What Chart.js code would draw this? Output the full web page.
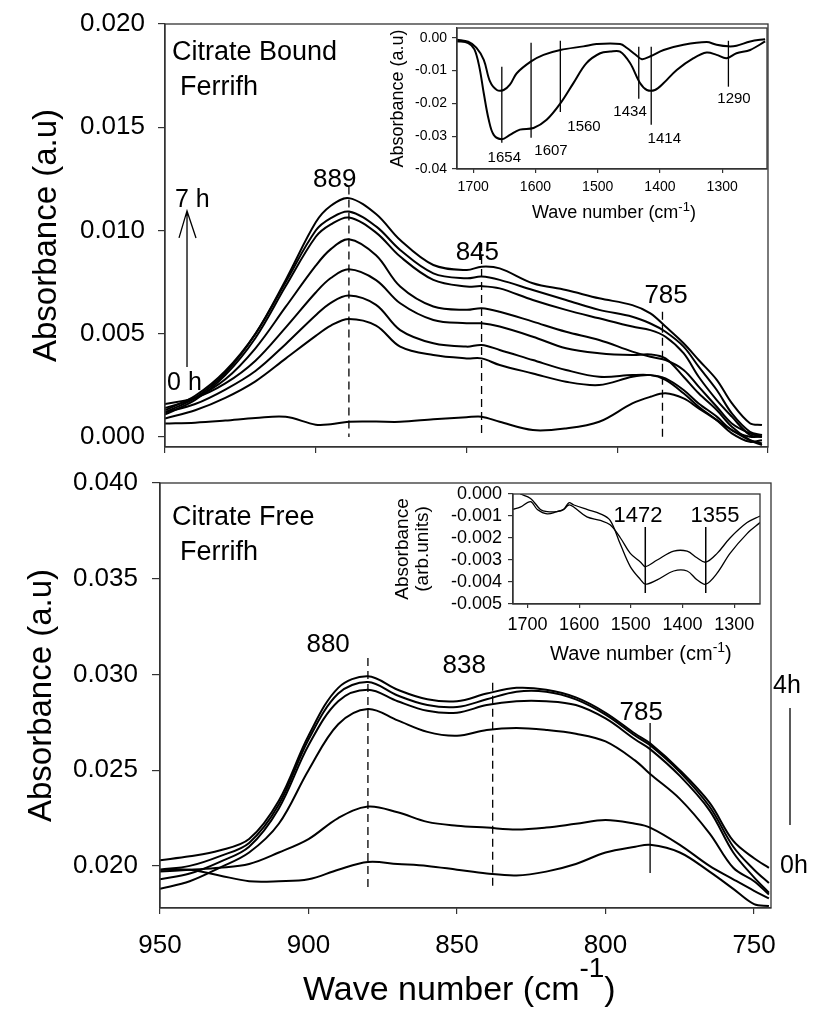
<!DOCTYPE html>
<html lang="en">
<head>
<meta charset="UTF-8">
<title>Ferrifh FTIR spectra</title>
<script src="https://cdn.jsdelivr.net/npm/chart.js"></script>
<style>
  body { margin: 0; background: #fff; }
  #wrap { position: relative; width: 814px; height: 1024px; overflow: hidden; }
  canvas { position: absolute; }
</style>
</head>
<body>
<div id="wrap">
  <canvas id="topMain" width="814" height="500" style="left:0;top:-20px"></canvas>
  <canvas id="topInset" width="420" height="224" style="left:370px;top:14px"></canvas>
  <canvas id="botMain" width="814" height="584" style="left:0;top:440px"></canvas>
  <canvas id="botInset" width="400" height="204" style="left:380px;top:476px"></canvas>
</div>

<script>
// ---------- data: citrate bound ferrifh (top panel) ----------
const topWn = [950, 940, 930, 920, 910, 900, 895, 889, 880, 872, 861, 850, 845, 839, 828, 817, 806, 795, 789, 784, 778, 773, 767, 762, 756, 752];
const topT0 = [0.00066, 0.0007, 0.0008, 0.00092, 0.00098, 0.0006, 0.00062, 0.00074, 0.00075, 0.00074, 0.00086, 0.00096, 0.00099, 0.00074, 0.00034, 0.00042, 0.00074, 0.00163, 0.00195, 0.00212, 0.00187, 0.00139, 0.00082, 0.00034, -0.00015, -0.00031];
const topT1 = [0.0009, 0.0013, 0.0019, 0.0027, 0.0038, 0.0049, 0.0054, 0.00572, 0.0054, 0.00438, 0.00397, 0.00381, 0.00381, 0.00349, 0.00308, 0.00268, 0.00252, 0.00292, 0.003, 0.00277, 0.00212, 0.00147, 0.00082, 0.00018, -0.00023, -0.00015];
const topT2 = [0.0012, 0.0016, 0.0023, 0.0032, 0.0045, 0.0059, 0.0065, 0.00685, 0.0064, 0.00518, 0.00454, 0.00438, 0.00446, 0.00422, 0.00373, 0.00325, 0.00292, 0.003, 0.003, 0.00284, 0.00228, 0.00163, 0.00099, 0.00034, 0.00002, 0.00002];
const topT3 = [0.0016, 0.0019, 0.0026, 0.0037, 0.0053, 0.0070, 0.0077, 0.00812, 0.0076, 0.00648, 0.00567, 0.00551, 0.00551, 0.00535, 0.00486, 0.0043, 0.00406, 0.00397, 0.004, 0.00381, 0.00292, 0.00212, 0.00131, 0.0005, -0.00015, -0.00039];
const topT4 = [0.0014, 0.0019, 0.0028, 0.0043, 0.0063, 0.0083, 0.0091, 0.00958, 0.0088, 0.00729, 0.00632, 0.00616, 0.00624, 0.00607, 0.00559, 0.0051, 0.0047, 0.00414, 0.00389, 0.00373, 0.00325, 0.00244, 0.00147, 0.00066, 0.00018, 0.00002];
const topT5 = [0.0011, 0.0018, 0.0030, 0.0048, 0.0073, 0.0097, 0.0103, 0.01063, 0.0099, 0.00874, 0.00761, 0.00729, 0.00731, 0.0072, 0.00664, 0.00616, 0.00575, 0.00535, 0.00518, 0.00486, 0.00406, 0.00292, 0.00179, 0.00099, 0.0001, 0.00002];
const topT6 = [0.0013, 0.0020, 0.0032, 0.0050, 0.0075, 0.0100, 0.0106, 0.01092, 0.0102, 0.00906, 0.00793, 0.00769, 0.00777, 0.00761, 0.00712, 0.00664, 0.00616, 0.00583, 0.0055, 0.0051, 0.00438, 0.00341, 0.00228, 0.00115, 0.00026, 0.0001];
const topT7 = [0.0012, 0.0019, 0.0031, 0.0050, 0.0076, 0.0104, 0.0112, 0.01157, 0.0108, 0.00954, 0.00833, 0.00809, 0.00825, 0.00817, 0.00745, 0.00712, 0.00672, 0.00639, 0.00599, 0.00535, 0.00454, 0.00373, 0.00277, 0.00164, 0.00067, 0.00058];
const topPeaks = [889, 845, 785];

// ---------- data: citrate free ferrifh (bottom panel) ----------
const botWn = [950, 940, 930, 920, 910, 900, 890, 880, 870, 860, 850, 840, 830, 820, 810, 800, 790, 785, 775, 765, 757, 750, 745];
const botT0 = [0.0198, 0.0198, 0.0195, 0.0192, 0.0192, 0.0193, 0.0198, 0.0202, 0.0201, 0.0200, 0.0198, 0.0196, 0.0195, 0.0197, 0.0201, 0.0207, 0.0210, 0.0211, 0.0207, 0.0197, 0.0188, 0.0180, 0.0179];
const botT1 = [0.0197, 0.0198, 0.0199, 0.0201, 0.0207, 0.0214, 0.0225, 0.0231, 0.0228, 0.0223, 0.0221, 0.0220, 0.0219, 0.0220, 0.0222, 0.0224, 0.0222, 0.0220, 0.0211, 0.0200, 0.0193, 0.0187, 0.0183];
const botT2 = [0.0188, 0.0192, 0.0199, 0.0207, 0.0222, 0.0250, 0.0274, 0.0282, 0.0276, 0.0270, 0.0268, 0.0271, 0.0272, 0.0271, 0.0269, 0.0265, 0.0255, 0.0248, 0.0235, 0.0217, 0.0199, 0.0192, 0.0185];
const botT3 = [0.0193, 0.0196, 0.0202, 0.0210, 0.0230, 0.0263, 0.0286, 0.0292, 0.0286, 0.0281, 0.0280, 0.0284, 0.0286, 0.0286, 0.0284, 0.0277, 0.0266, 0.0261, 0.0247, 0.0229, 0.0207, 0.0194, 0.0186];
const botT4 = [0.0198, 0.0200, 0.0205, 0.0212, 0.0232, 0.0266, 0.0290, 0.0296, 0.0289, 0.0284, 0.0283, 0.0287, 0.0291, 0.0291, 0.0287, 0.0279, 0.0268, 0.0263, 0.0249, 0.0231, 0.0210, 0.0198, 0.0191];
const botT5 = [0.0203, 0.0205, 0.0208, 0.0214, 0.0234, 0.0268, 0.0293, 0.0299, 0.0292, 0.0287, 0.0286, 0.0290, 0.0293, 0.0292, 0.0288, 0.0280, 0.0269, 0.0264, 0.0250, 0.0233, 0.0213, 0.0204, 0.0199];
const botPeaks = [880, 838, 785];

// ---------- data: insets ----------
const insetTopWnA = [1726, 1708, 1695, 1683, 1673, 1662, 1651, 1641, 1630, 1607, 1587, 1560, 1523, 1502, 1464, 1453, 1440, 1429, 1416, 1394, 1362, 1325, 1309, 1290, 1277, 1255, 1231];
const insetTopA = [-0.0006, -0.0012, -0.0030, -0.0067, -0.0133, -0.0159, -0.0159, -0.0143, -0.0108, -0.0072, -0.0052, -0.0037, -0.0026, -0.0019, -0.0019, -0.0031, -0.0050, -0.0065, -0.0057, -0.0037, -0.0021, -0.0013, -0.0021, -0.0026, -0.0024, -0.0011, -0.0004];
const insetTopWnB = [1726, 1708, 1698, 1690, 1683, 1675, 1667, 1654, 1641, 1625, 1603, 1582, 1560, 1539, 1518, 1496, 1480, 1464, 1448, 1432, 1421, 1408, 1394, 1373, 1346, 1325, 1309, 1293, 1277, 1255, 1231];
const insetTopB = [-0.0010, -0.0016, -0.0035, -0.0090, -0.0169, -0.0250, -0.0296, -0.0309, -0.0296, -0.0280, -0.0275, -0.0250, -0.0200, -0.0138, -0.0077, -0.0047, -0.0042, -0.0042, -0.0077, -0.0138, -0.0159, -0.0159, -0.0138, -0.0098, -0.0062, -0.0045, -0.0052, -0.0062, -0.0047, -0.0037, -0.0011];
const insetTopPeaks = [1654, 1607, 1560, 1434, 1414, 1290];

const insetBotWnA = [1728, 1714, 1694, 1681, 1662, 1643, 1630, 1620, 1610, 1585, 1559, 1540, 1520, 1501, 1481, 1472, 1449, 1417, 1391, 1372, 1355, 1333, 1308, 1275, 1250];
const insetBotA = [-0.0007, -0.0006, -0.00035, -0.0007, -0.0009, -0.0008, -0.0007, -0.0005, -0.0006, -0.00104, -0.0012, -0.0014, -0.0020, -0.0027, -0.0031, -0.0033, -0.0030, -0.0026, -0.0026, -0.0029, -0.0031, -0.0027, -0.0020, -0.0013, -0.0010];
const insetBotWnB = [1714, 1694, 1675, 1662, 1643, 1630, 1620, 1610, 1585, 1559, 1540, 1520, 1501, 1481, 1472, 1449, 1417, 1391, 1372, 1355, 1333, 1308, 1275, 1250];
const insetBotB = [0.0000, -0.0002, -0.0007, -0.0008, -0.0008, -0.0007, -0.0004, -0.0005, -0.0007, -0.0009, -0.0012, -0.0023, -0.0033, -0.0039, -0.0041, -0.0039, -0.0035, -0.0035, -0.0039, -0.0041, -0.0036, -0.0027, -0.0018, -0.0013];
const insetBotPeaks = [1472, 1355];

// ---------- ticks ----------
const wnTicks = [950, 900, 850, 800, 750];
const topYTicks = [0, 0.005, 0.010, 0.015, 0.020];
const botYTicks = [0.020, 0.025, 0.030, 0.035, 0.040];
const insetWnTicks = [1700, 1600, 1500, 1400, 1300];
const insetTopYTicks = [0, -0.01, -0.02, -0.03, -0.04];
const insetBotYTicks = [0, -0.001, -0.002, -0.003, -0.004, -0.005];

// annotation placement (data units): [top, bottom] of marker lines, label anchor
const topPeakSpan = [[0.01213, 0], [0.0094, 0], [0.00607, 0]];
const topPeakLabel = [[893.7, 0.01211], [846.4, 0.00858], [783.8, 0.00649]];
const botPeakSpan = [[0.03086, 0.01875], [0.02956, 0.01875], [0.02747, 0.01963]];
const botPeakLabel = [[893.4, 0.03117], [847.6, 0.03008], [788, 0.02762]];
const insetTopSpan = [[-0.0088, -0.0320], [-0.0015, -0.0305], [-0.0009, -0.0226], [-0.0027, -0.0186], [-0.0027, -0.0265], [-0.0009, -0.0149]];
const insetTopLabel = [[1650, -0.0378], [1575, -0.0357], [1522, -0.0284], [1448, -0.0238], [1393, -0.0320], [1281, -0.0198]];
const insetBotSpan = [[-0.0015, -0.0045], [-0.0015, -0.0045]];
const insetBotLabel = [[1486, -0.00128], [1337, -0.00128]];

const FONT = '"Liberation Sans", Arial, Helvetica, sans-serif';
const AXIS = '#333';
const DASH = [8, 5];

Chart.defaults.font.family = FONT;
Chart.defaults.color = '#000';
Chart.defaults.animation = false;
Chart.defaults.events = [];
Chart.defaults.plugins.legend.display = false;
Chart.defaults.plugins.tooltip.enabled = false;

function series(xs, ys, width) {
  return {
    data: xs.map((x, i) => ({ x: x, y: ys[i] })),
    borderColor: '#000', borderWidth: width,
    pointRadius: 0, tension: 0.35, fill: false
  };
}

function wnAxis(o) {
  return {
    type: 'linear', reverse: true, min: o.min, max: o.max,
    afterBuildTicks: s => { s.ticks = o.ticks.map(v => ({ value: v })); },
    afterFit: s => { s.height = o.height; },
    ticks: { display: o.labels, font: { size: o.font }, padding: o.pad, maxRotation: 0, autoSkip: false, callback: v => String(v) },
    grid: { drawOnChartArea: false, tickLength: o.tick, color: AXIS, lineWidth: 1.2 },
    border: { color: AXIS, width: 1.3 }
  };
}

function valAxis(o) {
  return {
    type: 'linear', min: o.min, max: o.max,
    afterBuildTicks: s => { s.ticks = o.ticks.map(v => ({ value: v })); },
    afterFit: s => { s.width = o.width; },
    ticks: { font: { size: o.font }, padding: o.pad, autoSkip: false, callback: v => v.toFixed(o.digits) },
    grid: { drawOnChartArea: false, tickLength: o.tick, color: AXIS, lineWidth: 1.2 },
    border: { color: AXIS, width: 1.3 },
    title: { display: true, text: o.title, font: { size: o.titleSize, lineHeight: o.titleLine || 1.2 }, padding: { top: o.titlePad, bottom: 0 } }
  };
}

const frame = {
  id: 'frame',
  afterDraw(chart) {
    const { ctx, chartArea: a } = chart;
    ctx.save();
    ctx.strokeStyle = AXIS;
    ctx.lineWidth = 1.3;
    ctx.strokeRect(a.left, a.top, a.right - a.left, a.bottom - a.top);
    ctx.restore();
  }
};

function px(chart, wn) { return chart.scales.x.getPixelForValue(wn); }
function py(chart, v) { return chart.scales.y.getPixelForValue(v); }

function label(ctx, str, x, y, size, align) {
  ctx.font = size + 'px ' + FONT;
  ctx.textAlign = align || 'left';
  ctx.textBaseline = 'alphabetic';
  ctx.fillStyle = '#000';
  ctx.fillText(str, x, y);
}

function mark(chart, wn, v0, v1, dash, width) {
  const ctx = chart.ctx, x = px(chart, wn);
  ctx.beginPath();
  ctx.setLineDash(dash || []);
  ctx.lineWidth = width;
  ctx.strokeStyle = '#000';
  ctx.moveTo(x, py(chart, v0));
  ctx.lineTo(x, py(chart, v1));
  ctx.stroke();
  ctx.setLineDash([]);
}

// "Wave number (cm-1)" with a raised -1
function unitTitle(ctx, x, y, size, supSize, rise) {
  const base = 'Wave number (cm';
  label(ctx, base, x, y, size);
  ctx.font = size + 'px ' + FONT;
  x += ctx.measureText(base).width;
  label(ctx, '-1', x, y - rise, supSize);
  ctx.font = supSize + 'px ' + FONT;
  x += ctx.measureText('-1').width;
  label(ctx, ')', x, y, size);
}

function notes(draw) {
  return {
    id: 'notes',
    afterDatasetsDraw(chart) {
      chart.ctx.save();
      draw(chart, chart.ctx, chart.chartArea);
      chart.ctx.restore();
    }
  };
}

// ---------- top main ----------
new Chart(document.getElementById('topMain'), {
  type: 'line',
  data: { datasets: [topT0, topT1, topT2, topT3, topT4, topT5, topT6, topT7].map(s => series(topWn, s, 2)) },
  options: {
    responsive: false,
    layout: { padding: { left: 0, top: 44, right: 46, bottom: 0 } },
    scales: {
      x: wnAxis({ min: 750, max: 950, ticks: wnTicks, height: 33, labels: false, font: 26, pad: 10, tick: 6 }),
      y: valAxis({ min: -0.00048, max: 0.020, ticks: topYTicks, width: 165, font: 26, pad: 13, tick: 7, digits: 3,
                   title: 'Absorbance (a.u)', titleSize: 33, titlePad: 27 })
    }
  },
  plugins: [frame, notes((chart, ctx, a) => {
    topPeaks.forEach((wn, i) => {
      mark(chart, wn, topPeakSpan[i][0], topPeakSpan[i][1], DASH, 1.3);
      label(ctx, String(wn), px(chart, topPeakLabel[i][0]), py(chart, topPeakLabel[i][1]), 26, 'center');
    });
    label(ctx, 'Citrate Bound', a.left + 7, a.top + 36, 27);
    label(ctx, 'Ferrifh', a.left + 15, a.top + 71, 27);
    label(ctx, '7 h', px(chart, 946.7), py(chart, 0.01113), 25);
    label(ctx, '0 h', px(chart, 949.3), py(chart, 0.00228), 25);
    const ax = px(chart, 942.7), ay0 = py(chart, 0.00339), ay1 = py(chart, 0.01095);
    ctx.beginPath();
    ctx.lineWidth = 1.3;
    ctx.strokeStyle = '#000';
    ctx.moveTo(ax, ay0); ctx.lineTo(ax, ay1);
    ctx.moveTo(ax - 8, ay1 + 27); ctx.lineTo(ax, ay1); ctx.lineTo(ax + 9, ay1 + 27);
    ctx.stroke();
  })]
});

// ---------- top inset ----------
new Chart(document.getElementById('topInset'), {
  type: 'line',
  data: { datasets: [series(insetTopWnA, insetTopA, 2), series(insetTopWnB, insetTopB, 2)] },
  options: {
    responsive: false,
    layout: { padding: { left: 0, top: 14, right: 23, bottom: 0 } },
    scales: {
      x: wnAxis({ min: 1228, max: 1726, ticks: insetWnTicks, height: 69, labels: true, font: 14, pad: 6, tick: 4 }),
      y: valAxis({ min: -0.04, max: 0.003, ticks: insetTopYTicks, width: 87, font: 14, pad: 5, tick: 5, digits: 2,
                   title: 'Absorbance (a.u)', titleSize: 18, titlePad: 17 })
    }
  },
  plugins: [frame, notes((chart, ctx, a) => {
    insetTopPeaks.forEach((wn, i) => {
      mark(chart, wn, insetTopSpan[i][0], insetTopSpan[i][1], null, 1.3);
      label(ctx, String(wn), px(chart, insetTopLabel[i][0]), py(chart, insetTopLabel[i][1]), 15, 'center');
    });
    unitTitle(ctx, a.left + 75, a.bottom + 49, 18, 13, 7);
  })]
});

// ---------- bottom main ----------
new Chart(document.getElementById('botMain'), {
  type: 'line',
  data: { datasets: [botT0, botT1, botT2, botT3, botT4, botT5].map(s => series(botWn, s, 2)) },
  options: {
    responsive: false,
    layout: { padding: { left: 0, top: 43, right: 43, bottom: 0 } },
    scales: {
      x: wnAxis({ min: 744.3, max: 950, ticks: wnTicks, height: 116, labels: true, font: 26, pad: 16, tick: 6 }),
      y: valAxis({ min: 0.0178, max: 0.040, ticks: botYTicks, width: 160, font: 26, pad: 14, tick: 8, digits: 3,
                   title: 'Absorbance (a.u)', titleSize: 33, titlePad: 22 })
    }
  },
  plugins: [frame, notes((chart, ctx, a) => {
    botPeaks.forEach((wn, i) => {
      mark(chart, wn, botPeakSpan[i][0], botPeakSpan[i][1], i < 2 ? DASH : null, 1.3);
      label(ctx, String(wn), px(chart, botPeakLabel[i][0]), py(chart, botPeakLabel[i][1]), 26, 'center');
    });
    label(ctx, 'Citrate Free', a.left + 12, a.top + 42, 27);
    label(ctx, 'Ferrifh', a.left + 20, a.top + 77, 27);
    label(ctx, '4h', a.right + 2, py(chart, 0.02903), 25);
    label(ctx, '0h', a.right + 9, py(chart, 0.01963), 25);
    ctx.beginPath();
    ctx.lineWidth = 1.3;
    ctx.strokeStyle = '#000';
    ctx.moveTo(a.right + 19, py(chart, 0.02825));
    ctx.lineTo(a.right + 19, py(chart, 0.02214));
    ctx.stroke();
    unitTitle(ctx, a.left + 143, a.bottom + 92, 34, 28, 23);
  })]
});

// ---------- bottom inset ----------
new Chart(document.getElementById('botInset'), {
  type: 'line',
  data: { datasets: [series(insetBotWnA, insetBotA, 1.3), series(insetBotWnB, insetBotB, 1.3)] },
  options: {
    responsive: false,
    layout: { padding: { left: 0, top: 18, right: 20, bottom: 0 } },
    scales: {
      x: wnAxis({ min: 1250, max: 1728, ticks: insetWnTicks, height: 76, labels: true, font: 18, pad: 6, tick: 4 }),
      y: valAxis({ min: -0.005, max: 0, ticks: insetBotYTicks, width: 133, font: 18, pad: 6, tick: 5, digits: 3,
                   title: ['Absorbance', '(arb.units)'], titleSize: 19, titleLine: 1.05, titlePad: 13 })
    }
  },
  plugins: [frame, notes((chart, ctx, a) => {
    insetBotPeaks.forEach((wn, i) => {
      mark(chart, wn, insetBotSpan[i][0], insetBotSpan[i][1], null, 1.5);
      label(ctx, String(wn), px(chart, insetBotLabel[i][0]), py(chart, insetBotLabel[i][1]), 22, 'center');
    });
    unitTitle(ctx, a.left + 37, a.bottom + 56, 20, 14, 8);
  })]
});
</script>
</body>
</html>
